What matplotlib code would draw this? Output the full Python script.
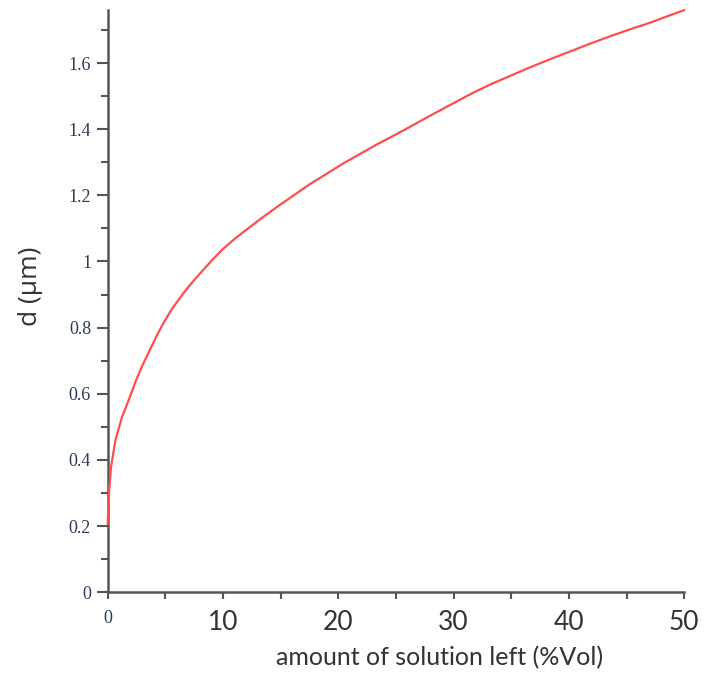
import matplotlib
matplotlib.use("Agg")
import matplotlib.pyplot as plt
from matplotlib.ticker import MultipleLocator

# values
vol_left = [0.0, 0.09, 0.29, 0.67, 1.24, 1.82, 2.46, 3.0, 3.65, 4.2, 4.8, 5.6,
            6.54, 7.4, 8.27, 9.1, 10.0, 11.1, 12.18, 13.19, 14.6, 16.09, 17.5,
            18.98, 20.4, 21.88, 23.3, 24.77, 26.0, 27.08, 28.4, 29.69, 31.4,
            33.16, 34.9, 36.63, 38.4, 40.1, 41.8, 43.58, 45.3, 47.05, 48.5, 50.0]
d_um = [0.208, 0.293, 0.379, 0.46, 0.53, 0.581, 0.641, 0.685, 0.732, 0.772, 0.812, 0.858,
        0.903, 0.94, 0.974, 1.006, 1.038, 1.071, 1.1, 1.127, 1.163, 1.199, 1.233,
        1.265, 1.296, 1.325, 1.353, 1.38, 1.403, 1.424, 1.449, 1.473, 1.505,
        1.535, 1.561, 1.587, 1.612, 1.635, 1.658, 1.681, 1.702, 1.722, 1.741, 1.76]

x_ticks = [0, 10, 20, 30, 40, 50]
y_ticks = [0, 0.2, 0.4, 0.6, 0.8, 1, 1.2, 1.4, 1.6]
y_tick_labels = ["0", "0.2", "0.4", "0.6", "0.8", "1", "1.2", "1.4", "1.6"]

fig = plt.figure(figsize=(7.04, 6.73), dpi=100)
ax = fig.add_axes([0.153, 0.120, 0.819, 0.865])

ax.plot(vol_left, d_um, color="#ff4d4d", lw=1.6, solid_joinstyle="round",
        zorder=3, clip_on=False)

ax.set_xlim(0, 50)
ax.set_ylim(0, 1.76)

for side in ["top", "right"]:
    ax.spines[side].set_visible(False)
for side in ["left", "bottom"]:
    ax.spines[side].set_color("#555555")
    ax.spines[side].set_linewidth(1.8)

ax.set_xticks(x_ticks)
ax.xaxis.set_minor_locator(MultipleLocator(5))
ax.set_yticks(y_ticks)
ax.set_yticklabels(y_tick_labels)
ax.yaxis.set_minor_locator(MultipleLocator(0.1))

ax.tick_params(axis="y", which="major", length=8, width=1.5, color="#555555", pad=4)
ax.tick_params(axis="y", which="minor", length=5, width=1.5, color="#555555")
ax.tick_params(axis="x", which="both", length=5, width=1.5, color="#555555", pad=8)

for lab in ax.get_yticklabels():
    lab.set_family("Liberation Serif")
    lab.set_fontsize(13)
    lab.set_color("#2b3a55")

xlabs = ax.get_xticklabels()
for lab in xlabs:
    lab.set_family("Lato")
    lab.set_fontsize(19)
    lab.set_color("#333333")
# the zero label is drawn in the small serif font, like the y ticks
xlabs[0].set_family("Liberation Serif")
xlabs[0].set_fontsize(13)
xlabs[0].set_color("#2b3a55")

ax.set_xlabel("amount of solution left (%Vol)", family="Lato", fontsize=18, color="#333333")
ax.xaxis.set_label_coords(0.575, -0.093)
ax.set_ylabel("d (µm)", family="Open Sans", fontsize=19, color="#333333")
ax.yaxis.set_label_coords(-0.113, 0.526)

fig.savefig("out.png", dpi=100)
